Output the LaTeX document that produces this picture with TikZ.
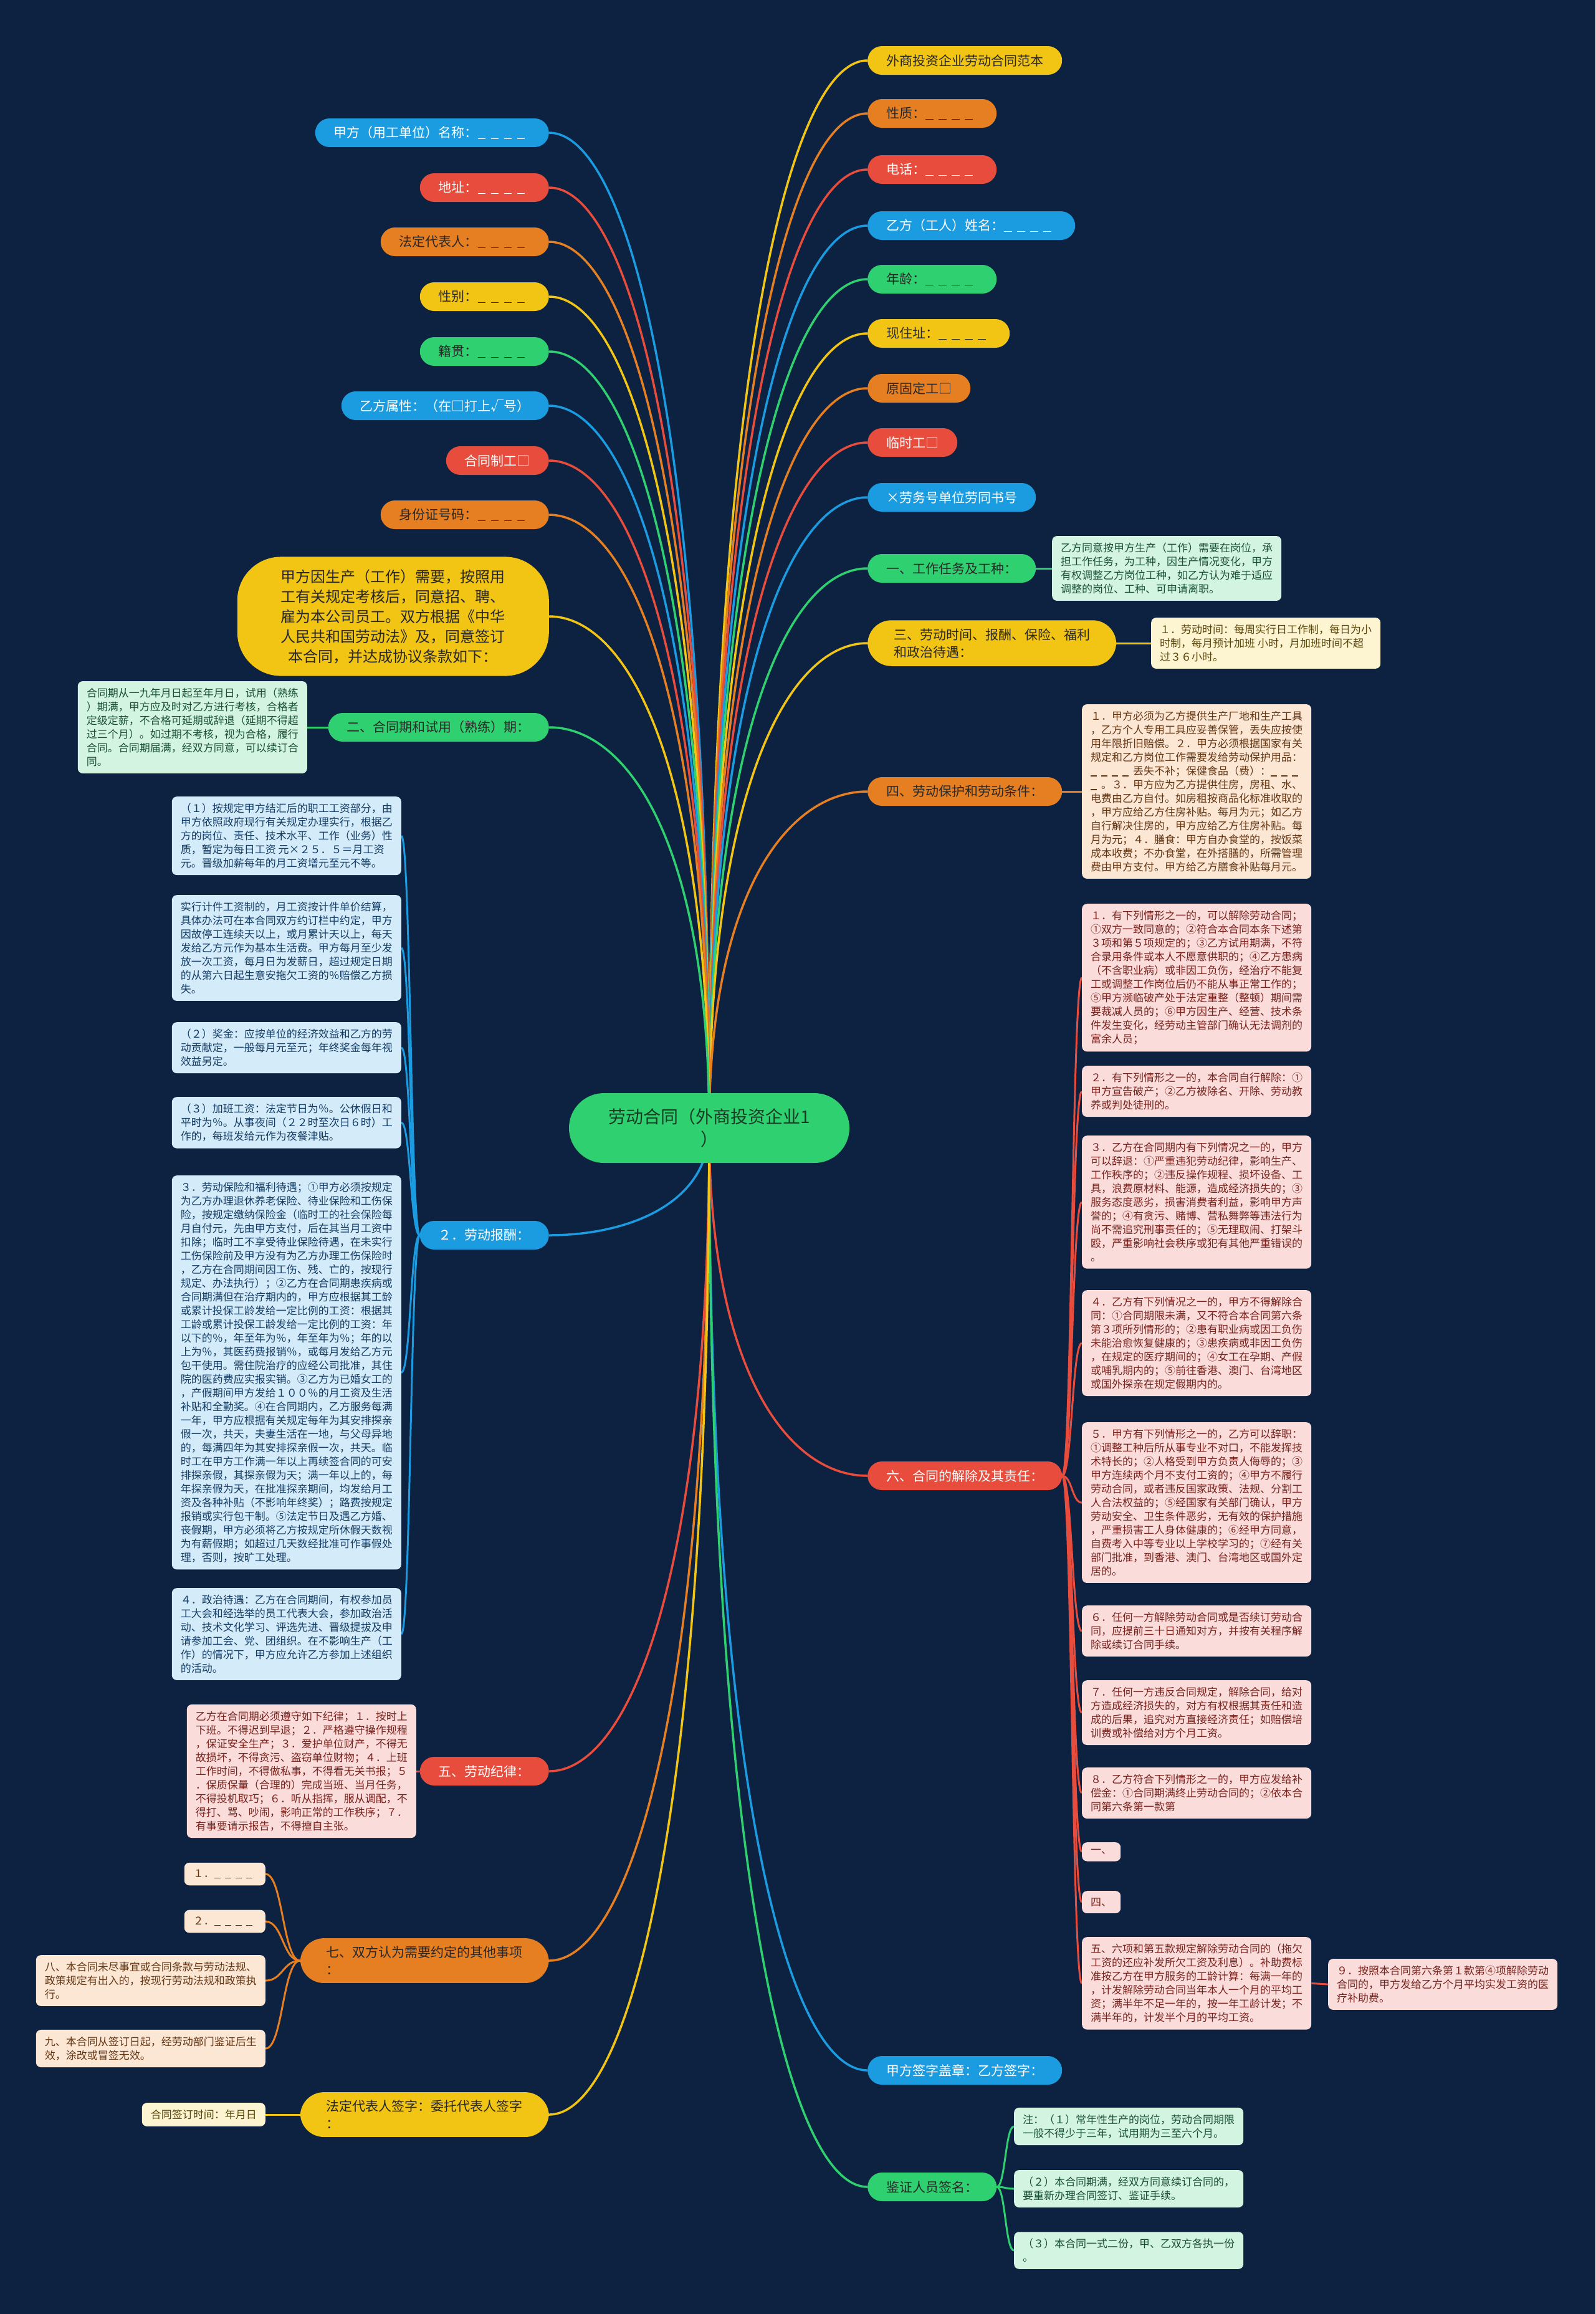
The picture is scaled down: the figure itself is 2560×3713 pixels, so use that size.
\documentclass[tikz,border=0pt]{standalone}
\usepackage{fontspec}
\setmainfont{Noto Sans CJK SC}
\usetikzlibrary{calc}
\pgfdeclarelayer{bgl}
\pgfdeclarelayer{edges}
\pgfsetlayers{bgl,edges,main}
\definecolor{bgc}{RGB}{12,34,64}
\definecolor{cgreen}{RGB}{46,208,112}
\definecolor{cyellow}{RGB}{242,196,20}
\definecolor{corange}{RGB}{230,126,34}
\definecolor{cred}{RGB}{231,76,60}
\definecolor{cblue}{RGB}{27,155,224}
\definecolor{tdark}{RGB}{40,40,40}
\definecolor{tcenter}{RGB}{25,60,38}
\definecolor{lgreen}{RGB}{212,244,226}
\definecolor{tlgreen}{RGB}{25,80,50}
\definecolor{lyellow}{RGB}{253,244,210}
\definecolor{tlyellow}{RGB}{90,70,10}
\definecolor{lpeach}{RGB}{252,230,212}
\definecolor{tlpeach}{RGB}{100,55,20}
\definecolor{lpink}{RGB}{250,220,218}
\definecolor{tlpink}{RGB}{120,35,30}
\definecolor{lblue}{RGB}{212,235,250}
\definecolor{tlblue}{RGB}{20,60,100}
\newcommand\bl{\rule[-0.12em]{0.6em}{0.07em}\hspace{0.4em}}
\tikzset{
 pill/.style={rounded corners=23pt, minimum height=46pt, inner xsep=30pt, inner ysep=6pt, font=\fontsize{21}{27}\selectfont, align=left},
 pilltwo/.style={rounded corners=38pt, inner xsep=42pt, inner ysep=13pt, font=\fontsize{21}{28}\selectfont, align=left},
 pg/.style={fill=cgreen, text=tdark},
 py/.style={fill=cyellow, text=tdark},
 po/.style={fill=corange, text=tdark},
 pr/.style={fill=cred, text=white},
 pb/.style={fill=cblue, text=white},
 leaf/.style={rounded corners=8pt, inner xsep=14pt, inner ysep=11pt, font=\fontsize{17}{22}\selectfont, align=left},
 lgr/.style={leaf, fill=lgreen, text=tlgreen},
 lyl/.style={leaf, fill=lyellow, text=tlyellow},
 lpc/.style={leaf, fill=lpeach, text=tlpeach},
 lpk/.style={leaf, fill=lpink, text=tlpink},
 lbl/.style={leaf, fill=lblue, text=tlblue},
 br/.style={line width=3.5pt},
 sb/.style={line width=3pt}
}
\newcommand\myhub[2]{\draw[br,#1] (hub) .. controls ($(hub)!0.7!(hub|-#2)$) and ($(hub|-#2)!0.5!(#2)$) .. (#2);}
\newcommand\mybranch[3]{\draw[sb,#1] (#2) .. controls ($(#2)!0.5!(#2-|#3)$) and ($(#3)!0.5!(#2|-#3)$) .. (#3);}
\begin{document}
\begin{tikzpicture}[x=1pt,y=-1pt]
\begin{pgfonlayer}{bgl}
\fill[bgc] (0,0) rectangle (2560,3713);
\end{pgfonlayer}
\useasboundingbox (0,0) rectangle (2560,3713);

% centre
\node[fill=cgreen, text=tcenter, rounded corners=56pt, minimum width=450pt, minimum height=112pt, font=\fontsize{28}{36}\selectfont, align=center] (cn) at (1138,1810) {劳动合同（外商投资企业1\\）};
\coordinate (hub) at (1138,1810);

% right main branches
\node[pill,py,anchor=west] (r1) at (1392,97) {外商投资企业劳动合同范本};
\node[pill,po,anchor=west] (r2) at (1392,182) {性质：\bl\bl\bl\bl};
\node[pill,pr,anchor=west] (r3) at (1392,272) {电话：\bl\bl\bl\bl};
\node[pill,pb,anchor=west] (r4) at (1392,362) {乙方（工人）姓名：\bl\bl\bl\bl};
\node[pill,pg,anchor=west] (r5) at (1392,448) {年龄：\bl\bl\bl\bl};
\node[pill,py,anchor=west] (r6) at (1392,535) {现住址：\bl\bl\bl\bl};
\node[pill,po,anchor=west] (r7) at (1392,623) {原固定工□};
\node[pill,pr,anchor=west] (r8) at (1392,710) {临时工□};
\node[pill,pb,anchor=west] (r9) at (1392,798) {×劳务号单位劳同书号};
\node[pill,pg,anchor=west] (r10) at (1392,912) {一、工作任务及工种：};
\node[pilltwo,py,anchor=west] (r11) at (1392,1032) {三、劳动时间、报酬、保险、福利\\和政治待遇：};
\node[pill,po,anchor=west] (r12) at (1392,1270) {四、劳动保护和劳动条件：};
\node[pill,pr,anchor=west] (r13) at (1392,2368) {六、合同的解除及其责任：};
\node[pill,pb,anchor=west] (r14) at (1392,3322) {甲方签字盖章：乙方签字：};
\node[pill,pg,anchor=west] (r15) at (1392,3509) {鉴证人员签名：};

% left main branches
\node[pill,pb,anchor=east] (l1) at (881,213) {甲方（用工单位）名称：\bl\bl\bl\bl};
\node[pill,pr,anchor=east] (l2) at (881,301) {地址：\bl\bl\bl\bl};
\node[pill,po,anchor=east] (l3) at (881,388) {法定代表人：\bl\bl\bl\bl};
\node[pill,py,anchor=east] (l4) at (881,476) {性别：\bl\bl\bl\bl};
\node[pill,pg,anchor=east] (l5) at (881,564) {籍贯：\bl\bl\bl\bl};
\node[pill,pb,anchor=east] (l6) at (881,651) {乙方属性：（在□打上√号）};
\node[pill,pr,anchor=east] (l7) at (881,739) {合同制工□};
\node[pill,po,anchor=east] (l8) at (881,826) {身份证号码：\bl\bl\bl\bl};
\node[py, rounded corners=70pt, inner xsep=70pt, inner ysep=20pt, font=\fontsize{24}{32}\selectfont, align=center, anchor=east] (l9) at (881,989) {甲方因生产（工作）需要，按照用\\工有关规定考核后，同意招、聘、\\雇为本公司员工。双方根据《中华\\人民共和国劳动法》及，同意签订\\本合同，并达成协议条款如下：};
\node[pill,pg,anchor=east] (l10) at (881,1167) {二、合同期和试用（熟练）期：};
\node[pill,pb,anchor=east] (l11) at (881,1982) {２．劳动报酬：};
\node[pill,pr,anchor=east] (l12) at (881,2842) {五、劳动纪律：};
\node[pilltwo,po,anchor=east] (l13) at (881,3146) {七、双方认为需要约定的其他事项\\：};
\node[pilltwo,py,anchor=east] (l14) at (881,3393) {法定代表人签字：委托代表人签字\\：};

% right leaves
\node[lgr,anchor=west] (ra) at (1688,912) {乙方同意按甲方生产（工作）需要在岗位，承\\
担工作任务，为工种，因生产情况变化，甲方\\
有权调整乙方岗位工种，如乙方认为难于适应\\
调整的岗位、工种、可申请离职。};
\node[lyl,anchor=west] (rb) at (1847,1032) {１．劳动时间：每周实行日工作制，每日为小\\
时制，每月预计加班 小时，月加班时间不超\\
过３６小时。};
\node[lpc,anchor=west] (rc) at (1736,1270) {１．甲方必须为乙方提供生产厂地和生产工具\\
，乙方个人专用工具应妥善保管，丢失应按使\\
用年限折旧赔偿。２．甲方必须根据国家有关\\
规定和乙方岗位工作需要发给劳动保护用品：\\
\bl\bl\bl\bl{}丢失不补；保健食品（费）：\bl\bl\bl\\
\bl{}。３．甲方应为乙方提供住房，房租、水、\\
电费由乙方自付。如房租按商品化标准收取的\\
，甲方应给乙方住房补贴。每月为元；如乙方\\
自行解决住房的，甲方应给乙方住房补贴。每\\
月为元；４．膳食：甲方自办食堂的，按饭菜\\
成本收费；不办食堂，在外搭膳的，所需管理\\
费由甲方支付。甲方给乙方膳食补贴每月元。};

\node[lpk,anchor=north west] (q1) at (1736,1450) {１．有下列情形之一的，可以解除劳动合同；\\
①双方一致同意的；②符合本合同本条下述第\\
３项和第５项规定的；③乙方试用期满，不符\\
合录用条件或本人不愿意供职的；④乙方患病\\
（不含职业病）或非因工负伤，经治疗不能复\\
工或调整工作岗位后仍不能从事正常工作的；\\
⑤甲方濒临破产处于法定重整（整顿）期间需\\
要裁减人员的；⑥甲方因生产、经营、技术条\\
件发生变化，经劳动主管部门确认无法调剂的\\
富余人员；};
\node[lpk,anchor=north west] (q2) at (1736,1710) {２．有下列情形之一的，本合同自行解除：①\\
甲方宣告破产；②乙方被除名、开除、劳动教\\
养或判处徒刑的。};
\node[lpk,anchor=north west] (q3) at (1736,1822) {３．乙方在合同期内有下列情况之一的，甲方\\
可以辞退：①严重违犯劳动纪律，影响生产、\\
工作秩序的；②违反操作规程、损坏设备、工\\
具，浪费原材料、能源，造成经济损失的；③\\
服务态度恶劣，损害消费者利益，影响甲方声\\
誉的；④有贪污、赌博、营私舞弊等违法行为\\
尚不需追究刑事责任的；⑤无理取闹、打架斗\\
殴，严重影响社会秩序或犯有其他严重错误的\\
。};
\node[lpk,anchor=north west] (q4) at (1736,2070) {４．乙方有下列情况之一的，甲方不得解除合\\
同：①合同期限未满，又不符合本合同第六条\\
第３项所列情形的；②患有职业病或因工负伤\\
未能治愈恢复健康的；③患疾病或非因工负伤\\
，在规定的医疗期间的；④女工在孕期、产假\\
或哺乳期内的；⑤前往香港、澳门、台湾地区\\
或国外探亲在规定假期内的。};
\node[lpk,anchor=north west] (q5) at (1736,2282) {５．甲方有下列情形之一的，乙方可以辞职：\\
①调整工种后所从事专业不对口，不能发挥技\\
术特长的；②人格受到甲方负责人侮辱的；③\\
甲方连续两个月不支付工资的；④甲方不履行\\
劳动合同，或者违反国家政策、法规、分割工\\
人合法权益的；⑤经国家有关部门确认，甲方\\
劳动安全、卫生条件恶劣，无有效的保护措施\\
，严重损害工人身体健康的；⑥经甲方同意，\\
自费考入中等专业以上学校学习的；⑦经有关\\
部门批准，到香港、澳门、台湾地区或国外定\\
居的。};
\node[lpk,anchor=north west] (q6) at (1736,2576) {６．任何一方解除劳动合同或是否续订劳动合\\
同，应提前三十日通知对方，并按有关程序解\\
除或续订合同手续。};
\node[lpk,anchor=north west] (q7) at (1736,2696) {７．任何一方违反合同规定，解除合同，给对\\
方造成经济损失的，对方有权根据其责任和造\\
成的后果，追究对方直接经济责任；如赔偿培\\
训费或补偿给对方个月工资。};
\node[lpk,anchor=north west] (q8) at (1736,2836) {８．乙方符合下列情形之一的，甲方应发给补\\
偿金：①合同期满终止劳动合同的；②依本合\\
同第六条第一款第};
\node[lpk,anchor=north west] (q9) at (1736,2956) {一、};
\node[lpk,anchor=north west] (q10) at (1736,3034) {四、};
\node[lpk,anchor=north west] (q11) at (1736,3108) {五、六项和第五款规定解除劳动合同的（拖欠\\
工资的还应补发所欠工资及利息）。补助费标\\
准按乙方在甲方服务的工龄计算：每满一年的\\
，计发解除劳动合同当年本人一个月的平均工\\
资；满半年不足一年的，按一年工龄计发；不\\
满半年的，计发半个月的平均工资。};
\node[lpk,anchor=west] (q12) at (2131,3184) {９．按照本合同第六条第１款第④项解除劳动\\
合同的，甲方发给乙方个月平均实发工资的医\\
疗补助费。};

\node[lgr,anchor=west] (n1) at (1627,3412) {注：（１）常年性生产的岗位，劳动合同期限\\
一般不得少于三年，试用期为三至六个月。};
\node[lgr,anchor=west] (n2) at (1627,3512) {（２）本合同期满，经双方同意续订合同的，\\
要重新办理合同签订、鉴证手续。};
\node[lgr,anchor=west] (n3) at (1627,3611) {（３）本合同一式二份，甲、乙双方各执一份\\
。};

% left leaves
\node[lgr,anchor=east] (lc) at (493,1167) {合同期从一九年月日起至年月日，试用（熟练\\
）期满，甲方应及时对乙方进行考核，合格者\\
定级定薪，不合格可延期或辞退（延期不得超\\
过三个月）。如过期不考核，视为合格，履行\\
合同。合同期届满，经双方同意，可以续订合\\
同。};
\node[lbl,anchor=north east] (b1) at (644,1278) {（１）按规定甲方结汇后的职工工资部分，由\\
甲方依照政府现行有关规定办理实行，根据乙\\
方的岗位、责任、技术水平、工作（业务）性\\
质，暂定为每日工资 元×２５．５＝月工资\\
元。晋级加薪每年的月工资增元至元不等。};
\node[lbl,anchor=north east] (b2) at (644,1436) {实行计件工资制的，月工资按计件单价结算，\\
具体办法可在本合同双方约订栏中约定，甲方\\
因故停工连续天以上，或月累计天以上，每天\\
发给乙方元作为基本生活费。甲方每月至少发\\
放一次工资，每月日为发薪日，超过规定日期\\
的从第六日起生意安拖欠工资的％赔偿乙方损\\
失。};
\node[lbl,anchor=north east] (b3) at (644,1640) {（２）奖金：应按单位的经济效益和乙方的劳\\
动贡献定，一般每月元至元；年终奖金每年视\\
效益另定。};
\node[lbl,anchor=north east] (b4) at (644,1760) {（３）加班工资：法定节日为％。公休假日和\\
平时为％。从事夜间（２２时至次日６时）工\\
作的，每班发给元作为夜餐津贴。};
\node[lbl,anchor=north east] (b5) at (644,1886) {３．劳动保险和福利待遇；①甲方必须按规定\\
为乙方办理退休养老保险、待业保险和工伤保\\
险，按规定缴纳保险金（临时工的社会保险每\\
月自付元，先由甲方支付，后在其当月工资中\\
扣除；临时工不享受待业保险待遇，在未实行\\
工伤保险前及甲方没有为乙方办理工伤保险时\\
，乙方在合同期间因工伤、残、亡的，按现行\\
规定、办法执行）；②乙方在合同期患疾病或\\
合同期满但在治疗期内的，甲方应根据其工龄\\
或累计投保工龄发给一定比例的工资：根据其\\
工龄或累计投保工龄发给一定比例的工资：年\\
以下的％，年至年为％，年至年为％；年的以\\
上为％，其医药费报销％，或每月发给乙方元\\
包干使用。需住院治疗的应经公司批准，其住\\
院的医药费应实报实销。③乙方为已婚女工的\\
，产假期间甲方发给１００％的月工资及生活\\
补贴和全勤奖。④在合同期内，乙方服务每满\\
一年，甲方应根据有关规定每年为其安排探亲\\
假一次，共天，夫妻生活在一地，与父母异地\\
的，每满四年为其安排探亲假一次，共天。临\\
时工在甲方工作满一年以上再续签合同的可安\\
排探亲假，其探亲假为天；满一年以上的，每\\
年探亲假为天，在批准探亲期间，均发给月工\\
资及各种补贴（不影响年终奖）；路费按规定\\
报销或实行包干制。⑤法定节日及遇乙方婚、\\
丧假期，甲方必须将乙方按规定所休假天数视\\
为有薪假期；如超过几天数经批准可作事假处\\
理，否则，按旷工处理。};
\node[lbl,anchor=north east] (b6) at (644,2548) {４．政治待遇：乙方在合同期间，有权参加员\\
工大会和经选举的员工代表大会，参加政治活\\
动、技术文化学习、评选先进、晋级提拔及申\\
请参加工会、党、团组织。在不影响生产（工\\
作）的情况下，甲方应允许乙方参加上述组织\\
的活动。};
\node[lpk,anchor=east] (ld) at (668,2842) {乙方在合同期必须遵守如下纪律；１．按时上\\
下班。不得迟到早退；２．严格遵守操作规程\\
，保证安全生产；３．爱护单位财产，不得无\\
故损坏，不得贪污、盗窃单位财物；４．上班\\
工作时间，不得做私事，不得看无关书报；５\\
．保质保量（合理的）完成当班、当月任务，\\
不得投机取巧；６．听从指挥，服从调配，不\\
得打、骂、吵闹，影响正常的工作秩序；７．\\
有事要请示报告，不得擅自主张。};
\node[lpc,anchor=east] (s1) at (426,3007) {１．\bl\bl\bl\bl};
\node[lpc,anchor=east] (s2) at (426,3083) {２．\bl\bl\bl\bl};
\node[lpc,anchor=east] (s3) at (426,3178) {八、本合同未尽事宜或合同条款与劳动法规、\\
政策规定有出入的，按现行劳动法规和政策执\\
行。};
\node[lpc,anchor=east] (s4) at (426,3287) {九、本合同从签订日起，经劳动部门鉴证后生\\
效，涂改或冒签无效。};
\node[lyl,anchor=east] (lt) at (426,3393) {合同签订时间：年月日};

% connectors
\begin{pgfonlayer}{edges}
\foreach \n/\c in {r1/cyellow,r2/corange,r3/cred,r4/cblue,r5/cgreen,r6/cyellow,r7/corange,r8/cred,r9/cblue,r10/cgreen,r11/cyellow,r12/corange,r13/cred,r14/cblue,r15/cgreen}
 {\myhub{\c}{\n.west}}
\foreach \n/\c in {l1/cblue,l2/cred,l3/corange,l4/cyellow,l5/cgreen,l6/cblue,l7/cred,l8/corange,l9/cyellow,l10/cgreen,l11/cblue,l12/cred,l13/corange,l14/cyellow}
 {\myhub{\c}{\n.east}}
\mybranch{cgreen}{r10.east}{ra.west}
\mybranch{cyellow}{r11.east}{rb.west}
\mybranch{corange}{r12.east}{rc.west}
\foreach \t in {q1,q2,q3,q4,q5,q6,q7,q8,q9,q10,q11}
 {\mybranch{cred}{r13.east}{\t.west}}
\mybranch{cred}{q11.east}{q12.west}
\foreach \t in {n1,n2,n3}
 {\mybranch{cgreen}{r15.east}{\t.west}}
\mybranch{cgreen}{l10.west}{lc.east}
\foreach \t in {b1,b2,b3,b4,b5,b6}
 {\mybranch{cblue}{l11.west}{\t.east}}
\mybranch{cred}{l12.west}{ld.east}
\foreach \t in {s1,s2,s3,s4}
 {\mybranch{corange}{l13.west}{\t.east}}
\mybranch{cyellow}{l14.west}{lt.east}
\end{pgfonlayer}
\end{tikzpicture}
\end{document}
